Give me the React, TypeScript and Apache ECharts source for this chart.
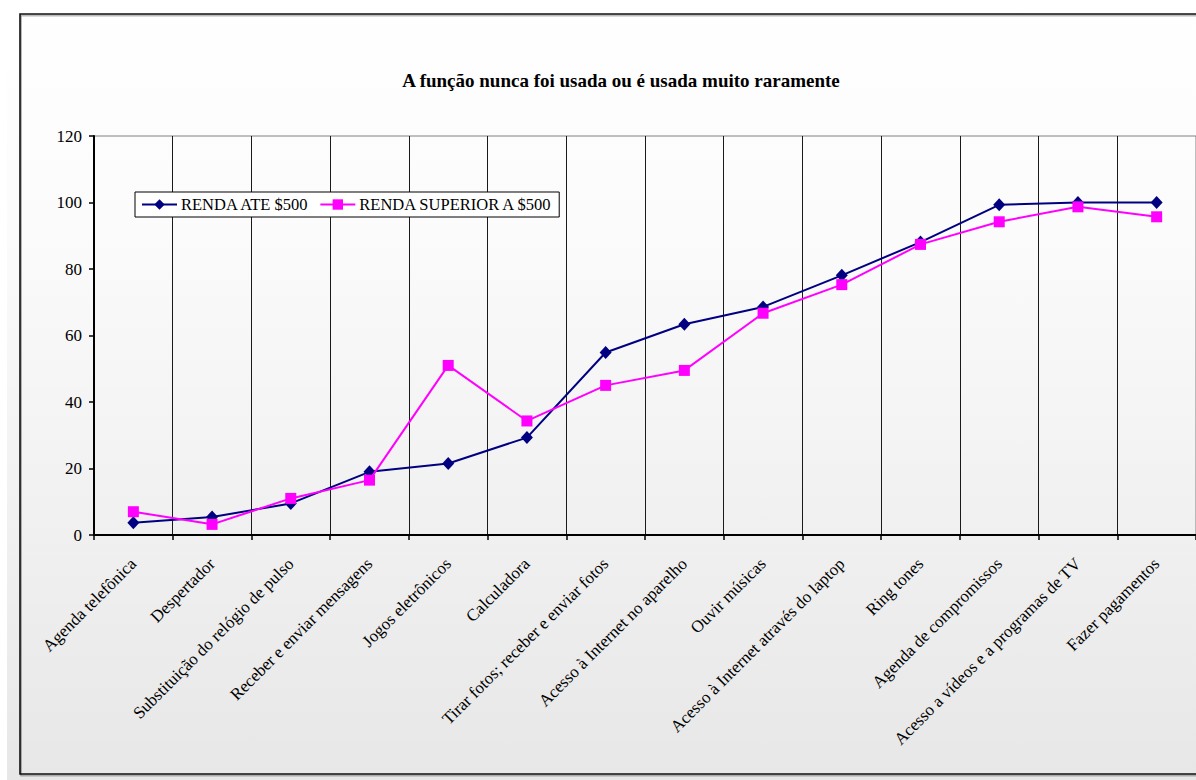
import React, { useEffect, useRef } from "react";
import * as echarts from "echarts";

// Funções do celular e percentual de usuários que nunca (ou raramente) as usam
const categories = [
  "Agenda telefônica",
  "Despertador",
  "Substituição do relógio de pulso",
  "Receber e enviar mensagens",
  "Jogos eletrônicos",
  "Calculadora",
  "Tirar fotos; receber e enviar fotos",
  "Acesso à Internet no aparelho",
  "Ouvir músicas",
  "Acesso à Internet através do laptop",
  "Ring tones",
  "Agenda de compromissos",
  "Acesso a vídeos e a programas de TV",
  "Fazer pagamentos",
];

const rendaAte500 = [3.7, 5.4, 9.5, 19.0, 21.5, 29.3, 54.9, 63.4, 68.6, 78.1, 88.1, 99.3, 100, 100];
const rendaSuperior500 = [7.0, 3.2, 11.0, 16.5, 51.0, 34.3, 45.0, 49.5, 66.7, 75.3, 87.4, 94.2, 98.7, 95.7];

const yTicks = { min: 0, max: 120, interval: 20 };

const seriesNames = ["RENDA ATE $500", "RENDA SUPERIOR A $500"];
const titleText = "A função nunca foi usada ou é usada muito raramente";

const FONT = '"Liberation Serif", "Times New Roman", serif';

export default function App() {
  const ref = useRef<HTMLDivElement>(null);

  useEffect(() => {
    if (!ref.current) return;
    const chart = echarts.init(ref.current, undefined, { renderer: "svg" });

    const bgGradient = new echarts.graphic.LinearGradient(0, 0, 0, 1, [
      { offset: 0, color: "#ffffff" },
      { offset: 0.3, color: "#fbfbfb" },
      { offset: 1, color: "#e7e7e7" },
    ]);

    chart.setOption({
      animation: false,
      backgroundColor: bgGradient,
      graphic: [
        {
          type: "rect",
          z: -10,
          silent: true,
          shape: { x: 0, y: 0, width: 7, height: 780 },
          style: { fill: "#ffffff" },
        },
        {
          type: "rect",
          z: -10,
          silent: true,
          shape: { x: 0, y: 0, width: 20, height: 70 },
          style: { fill: "#ffffff" },
        },
        {
          type: "rect",
          z: -9,
          silent: true,
          shape: { x: 20, y: 14, width: 1200, height: 760 },
          style: {
            fill: "none",
            stroke: "#111",
            lineWidth: 1.6,
            shadowColor: "rgba(0,0,0,0.35)",
            shadowOffsetX: 1,
            shadowOffsetY: 1.5,
            shadowBlur: 1,
          },
        },
        {
          type: "text",
          z: 5,
          x: 621,
          y: 80,
          style: {
            text: titleText,
            fill: "#000",
            font: `bold 19px ${FONT}`,
            align: "center",
            verticalAlign: "middle",
          },
        },
      ],
      legend: {
        left: 135,
        top: 192,
        orient: "horizontal",
        backgroundColor: "#ffffff",
        borderColor: "#000",
        borderWidth: 1,
        borderRadius: 0,
        padding: [4, 6, 4, 6],
        itemWidth: 35,
        itemHeight: 13,
        itemGap: 10,
        textStyle: { fontFamily: FONT, fontSize: 16.5, color: "#000", padding: [1, 0, 0, -1] },
        data: seriesNames,
      },
      grid: {
        left: 94,
        top: 136,
        width: 1102,
        height: 399,
        show: true,
        borderColor: "#808080",
        borderWidth: 1,
        backgroundColor: "transparent",
      },
      xAxis: {
        type: "category",
        data: categories,
        boundaryGap: true,
        axisLine: { show: true, lineStyle: { color: "#000", width: 2 } },
        axisTick: { show: true, inside: false, length: 5, lineStyle: { color: "#000", width: 1.5 } },
        splitLine: { show: true, lineStyle: { color: "#1a1a1a", width: 1 } },
        axisLabel: {
          interval: 0,
          rotate: 45,
          margin: 26,
          fontFamily: FONT,
          fontSize: 17,
          color: "#000",
        },
      },
      yAxis: {
        type: "value",
        min: yTicks.min,
        max: yTicks.max,
        interval: yTicks.interval,
        axisLine: { show: true, lineStyle: { color: "#000", width: 2 } },
        axisTick: { show: true, inside: false, length: 5, lineStyle: { color: "#000", width: 1.5 } },
        splitLine: { show: false },
        axisLabel: { margin: 12, fontFamily: FONT, fontSize: 17, color: "#000" },
      },
      series: [
        {
          name: seriesNames[0],
          type: "line",
          data: rendaAte500,
          symbol: "diamond",
          symbolSize: [12, 13],
          lineStyle: { color: "#000080", width: 2 },
          itemStyle: { color: "#000080" },
          z: 3,
        },
        {
          name: seriesNames[1],
          type: "line",
          data: rendaSuperior500,
          symbol: "rect",
          symbolSize: 11,
          lineStyle: { color: "#ff00ff", width: 2 },
          itemStyle: { color: "#ff00ff" },
          z: 4,
        },
      ],
    });

    return () => chart.dispose();
  }, []);

  return (
    <div
      ref={ref}
      style={{ position: "fixed", left: 0, top: 0, width: 1196, height: 780 }}
    />
  );
}
